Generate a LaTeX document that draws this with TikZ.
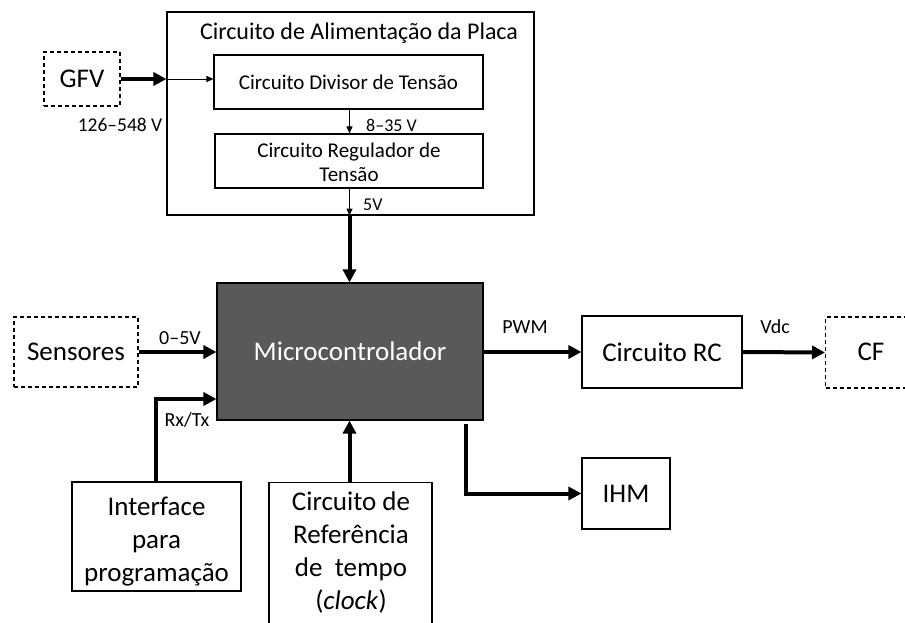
\documentclass[tikz,border=0pt]{standalone}
\usepackage{fontspec}
\setmainfont{Carlito}
\usetikzlibrary{arrows.meta}
\definecolor{mcufill}{HTML}{595959}
\begin{document}
\begin{tikzpicture}[x=1pt,y=-1pt,
  blk/.style={draw=black,line width=1.1pt,inner sep=0pt,align=center},
  ext/.style={blk,dash pattern=on 4pt off 3pt},
  big/.style={font=\fontsize{27}{33}\selectfont},
  mid/.style={font=\fontsize{21}{24}\selectfont},
  lbl/.style={font=\fontsize{20}{22}\selectfont,inner sep=0pt},
  sml/.style={font=\fontsize{18}{20}\selectfont,inner sep=0pt},
  fat/.style={line width=4pt,-{Triangle[length=13pt,width=13pt]}},
  thin/.style={line width=0.9pt,-{Triangle[length=7pt,width=6pt]}}]
\useasboundingbox (0,0) rectangle (905,623);
\clip (0,0) rectangle (905,623);

% power supply block
\node[blk,minimum width=367pt,minimum height=203pt] (placa) at (350.5,113.5) {};
\node[font=\fontsize{24}{28}\selectfont,inner sep=0pt] (titulo) at (359,33) {Circuito de Alimentação da Placa};
\node[blk,mid,minimum width=269pt,minimum height=54pt] (div) at (348.5,82) {Circuito Divisor de Tensão};
\node[blk,minimum width=268pt,minimum height=54pt] (reg) at (349,161) {};
\node[mid,inner sep=0pt,align=center] (regtxt) at (349,162) {Circuito Regulador de\\Tensão};

% external blocks
\node[ext,big,minimum width=76pt,minimum height=54pt] (gfv) at (82,79) {GFV};
\node[ext,big,minimum width=124pt,minimum height=70pt] (sens) at (76,352) {Sensores};
\node[ext,minimum width=100pt,minimum height=71pt,anchor=west] (cf) at (825,352.5) {};
\node[big,inner sep=0pt] (cftxt) at (871,352) {CF};

% controller and peripherals
\node[blk,fill=mcufill,text=white,big,minimum width=266pt,minimum height=137pt] (mcu) at (350,351.5) {Microcontrolador};
\node[blk,big,minimum width=160pt,minimum height=72pt] (rc) at (662,352) {Circuito RC};
\node[blk,big,minimum width=88pt,minimum height=71pt] (ihm) at (626,493.5) {IHM};
\node[blk,minimum width=169pt,minimum height=109pt] (prog) at (156.5,536.5) {};
\node[big,inner sep=0pt,align=center] (progtxt) at (156.5,542) {Interface\\para\\programação};
\node[blk,minimum width=163pt,minimum height=190pt,anchor=north] (clk) at (350.5,482) {};
\node[big,inner sep=0pt,align=center] (clktxt) at (351,552) {Circuito de\\Referência\\de\ \ tempo\\(\textit{clock})};

% connectors
\coordinate (gfvin) at (placa.west |- gfv.east);
\draw[fat] (gfv.east) -- (gfvin);
\draw[thin] (gfvin) -- (div.west |- gfvin);
\coordinate (vtap) at (349.5,0);
\draw[thin] (div.south -| vtap) -- (reg.north -| vtap);
\draw[thin] (reg.south -| vtap) -- (placa.south -| vtap);
\draw[fat] (placa.south -| vtap) -- (mcu.north -| vtap);
\draw[fat] (sens.east) -- (mcu.west |- sens.east);
\coordinate (rxtx) at (156,399);
\draw[fat] (prog.north -| rxtx) -- (rxtx) -- (mcu.west |- rxtx);
\draw[fat] (clk.north -| vtap) -- (mcu.south -| vtap);
\draw[fat] (mcu.east |- rc.west) -- (rc.west);
\draw[fat] (rc.east) -- (cf.west);
\coordinate (ihmtap) at (466,424);
\draw[fat] (ihmtap) |- (ihm.west);

% signal labels
\node[lbl,font=\fontsize{19.5}{22}\selectfont] (l1) at (120,125) {126–548 V};
\node[sml,anchor=west] (l2) at (366,125) {8–35 V};
\node[sml,anchor=west] (l3) at (363,205) {5V};
\node[lbl] (l4) at (180,338) {0–5V};
\node[lbl] (l5) at (187,420) {Rx/Tx};
\node[lbl] (l6) at (525,327) {PWM};
\node[lbl] (l7) at (775,327) {Vdc};
\end{tikzpicture}
\end{document}
